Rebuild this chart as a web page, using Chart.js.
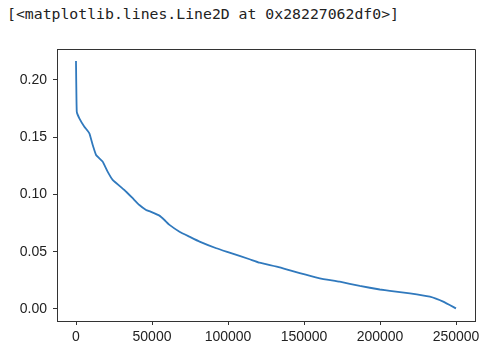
<!DOCTYPE html>
<html>
<head>
<meta charset="utf-8">
<script src="https://cdn.jsdelivr.net/npm/chart.js@4.4.0/dist/chart.umd.min.js"></script>
<style>
    html, body { margin: 0; padding: 0; background: #fff; }
    #wrap { position: relative; width: 486px; height: 355px; }
    #out {
        position: absolute; left: 7px; top: 5px;
        font-family: 'DejaVu Sans Mono', monospace; font-size: 14.8px;
        color: #222; white-space: pre;
    }
    canvas { position: absolute; left: 0; top: 0; }
</style>
</head>
<body>
<div id="wrap">
    <div id="out">[&lt;matplotlib.lines.Line2D at 0x28227062df0&gt;]</div>
    <canvas id="c" width="486" height="355"></canvas>
</div>
<script>
// values (sorted, descending)
const xs = [0, 500, 2200, 5500, 8800, 11000, 13200, 17500, 20800, 24100, 31800, 37300,
    41700, 46100, 49000, 54900, 58200, 61500, 68100, 74700, 81300, 92300, 101000,
    114200, 120800, 134000, 147200, 160400, 173500, 186700, 199900, 206500, 219700,
    232800, 241600, 250000];
const ys = [0.2165, 0.1723, 0.1665, 0.1592, 0.1534, 0.1432, 0.1345, 0.1287, 0.1199, 0.1127,
    0.1039, 0.0967, 0.0908, 0.0865, 0.0850, 0.0815, 0.0777, 0.0734, 0.0675, 0.0631, 0.0588,
    0.0530, 0.0492, 0.0434, 0.0404, 0.0364, 0.0312, 0.0268, 0.0238, 0.0201, 0.0170, 0.0158,
    0.0137, 0.0107, 0.0064, 0.0005];
const xTicks = [0, 50000, 100000, 150000, 200000, 250000];
const yTicks = [0, 0.05, 0.10, 0.15, 0.20];

const axisColor = '#333';
const tickFont = { family: 'Liberation Sans', size: 14 };

// top and right spines like matplotlib
const frame = {
    id: 'frame',
    afterDraw(chart) {
        const { ctx, chartArea: a } = chart;
        ctx.save();
        ctx.strokeStyle = axisColor;
        ctx.lineWidth = 1;
        ctx.beginPath();
        ctx.moveTo(a.left, a.top + 0.5);
        ctx.lineTo(a.right + 0.5, a.top + 0.5);
        ctx.lineTo(a.right + 0.5, a.bottom);
        ctx.stroke();
        ctx.restore();
    }
};

new Chart(document.getElementById('c'), {
    type: 'scatter',
    data: {
        datasets: [{
            data: xs.map((x, i) => ({ x: x, y: ys[i] })),
            showLine: true,
            borderColor: '#3079bd',
            borderWidth: 1.8,
            pointRadius: 0,
            tension: 0.1
        }]
    },
    options: {
        responsive: false,
        animation: false,
        layout: { padding: { left: 0, top: 49, right: 11, bottom: 0 } },
        plugins: { legend: { display: false }, tooltip: { enabled: false } },
        scales: {
            x: {
                type: 'linear', min: -12500, max: 262500,
                afterBuildTicks: (axis) => { axis.ticks = xTicks.map(v => ({ value: v })); },
                afterFit: (axis) => { axis.height = 34; },
                grid: { display: true, drawOnChartArea: false, drawTicks: true, tickLength: 4, color: axisColor },
                border: { display: true, color: axisColor },
                ticks: { color: '#222', font: tickFont, padding: 4, maxRotation: 0, callback: v => String(v) }
            },
            y: {
                min: -0.0105, max: 0.2270,
                afterBuildTicks: (axis) => { axis.ticks = yTicks.map(v => ({ value: v })); },
                afterFit: (axis) => { axis.width = 57; },
                grid: { display: true, drawOnChartArea: false, drawTicks: true, tickLength: 4, color: axisColor },
                border: { display: true, color: axisColor },
                ticks: { color: '#222', font: tickFont, padding: 6, callback: v => v.toFixed(2) }
            }
        }
    },
    plugins: [frame]
});
</script>
</body>
</html>
